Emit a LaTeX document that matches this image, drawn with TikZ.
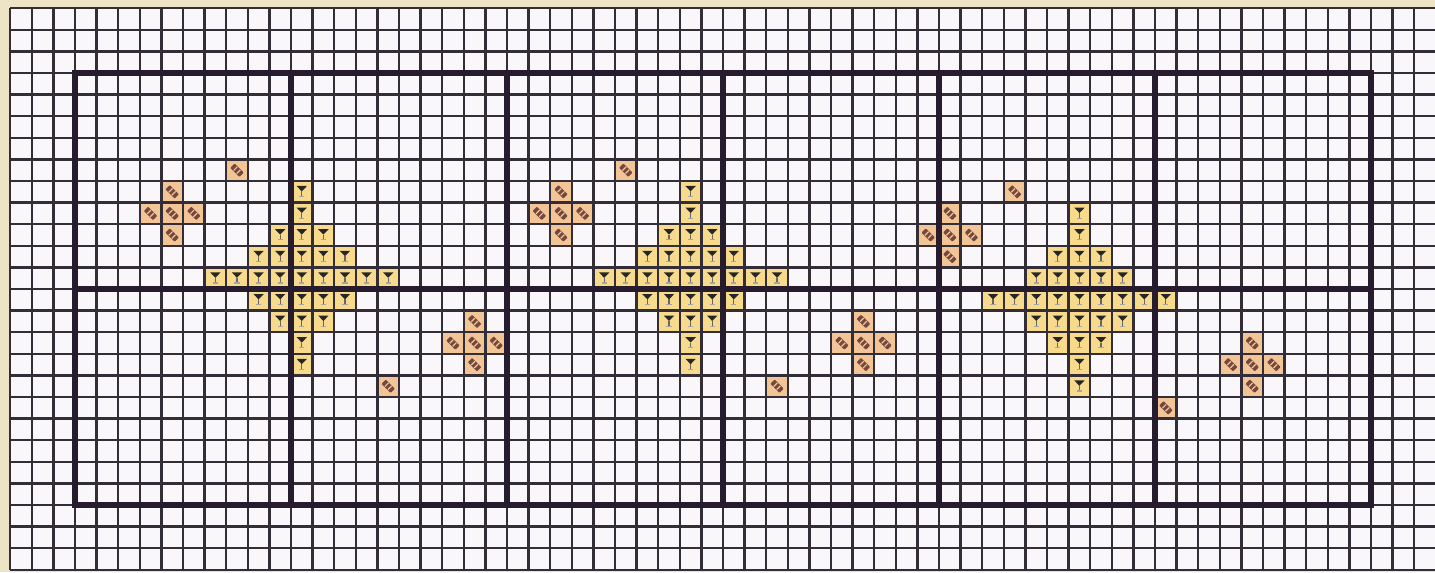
\documentclass[tikz,border=0pt]{standalone}
\usetikzlibrary{positioning}
\definecolor{scan}{RGB}{236,228,196}
\definecolor{paper}{RGB}{250,247,251}
\definecolor{gridline}{RGB}{50,45,55}
\definecolor{boxline}{RGB}{38,28,45}
\definecolor{hatchfill}{RGB}{243,196,150}
\definecolor{glassfill}{RGB}{247,218,140}
\definecolor{hatchmark}{RGB}{115,72,62}
\tikzset{
    thin grid/.style={draw=gridline, line width=1.6pt}, % every cell
    thick box/.style={draw=boxline, line width=3.8pt, line cap=rect}, % 10x10 blocks
    hatch sym/.pic={
        \begin{scope}[rotate=-45]
            \fill[hatchmark, rounded corners=0.5pt] (-0.3,-0.14) rectangle (0.3,0.14);
            \foreach \s in {-0.1,0.1}
                \draw[hatchfill, line width=0.8pt] (\s,-0.12) -- (\s,0.12);
        \end{scope}
    },
    glass sym/.pic={
        \fill[black!85] (-0.24,0.27) -- (0.24,0.27) -- (0,0.02) -- cycle;
        \draw[black!60, line width=0.8pt] (0,0.02) -- (0,-0.2);
        \draw[black!35, line width=0.8pt] (-0.12,-0.22) -- (0.12,-0.22);
    },
}
% cells as column/row, row counted from the top of the box
\newcommand\hatchcells{7/4, 4/5, 3/6, 4/6, 5/6, 4/7, 14/14, 18/11, 17/12, 18/12, 19/12, 18/13}
\newcommand\glasscells{10/5, 10/6, 9/7, 10/7, 11/7, 8/8, 9/8, 10/8, 11/8, 12/8,
    6/9, 7/9, 8/9, 9/9, 10/9, 11/9, 12/9, 13/9, 14/9,
    8/10, 9/10, 10/10, 11/10, 12/10, 9/11, 10/11, 11/11, 10/12, 10/13}
\newcommand\motifs{0/0, 18/0, 36/1}
\begin{document}
\begin{tikzpicture}[x=0.5cm, y=0.5cm]
  \useasboundingbox[fill=scan] (-3.47,-3.10) rectangle (62.96,23.38);
  \fill[paper] (-3,-3) rectangle (63,23);

  % coloured cells
  \foreach \dx/\dr in \motifs {
    \foreach \c/\r in \hatchcells
      \fill[hatchfill] ({\dx+\c},{19-\r-\dr}) rectangle +(1,1);
    \foreach \c/\r in \glasscells
      \fill[glassfill] ({\dx+\c},{19-\r-\dr}) rectangle +(1,1);
  }

  % grid
  \foreach \x in {-3,...,63}
    \draw[thin grid] (\x,-3) -- (\x,23);
  \foreach \y in {-3,...,23}
    \draw[thin grid] (-3,\y) -- (63,\y);
  \foreach \x in {0,10,...,60}
    \draw[thick box] (\x,0) -- (\x,20);
  \foreach \y in {0,10,20}
    \draw[thick box] (0,\y) -- (60,\y);

  % symbols
  \foreach \dx/\dr in \motifs {
    \foreach \c/\r in \hatchcells
      \pic at ({\dx+\c+0.5},{19.5-\r-\dr}) {hatch sym};
    \foreach \c/\r in \glasscells
      \pic at ({\dx+\c+0.5},{19.5-\r-\dr}) {glass sym};
  }
\end{tikzpicture}
\end{document}
